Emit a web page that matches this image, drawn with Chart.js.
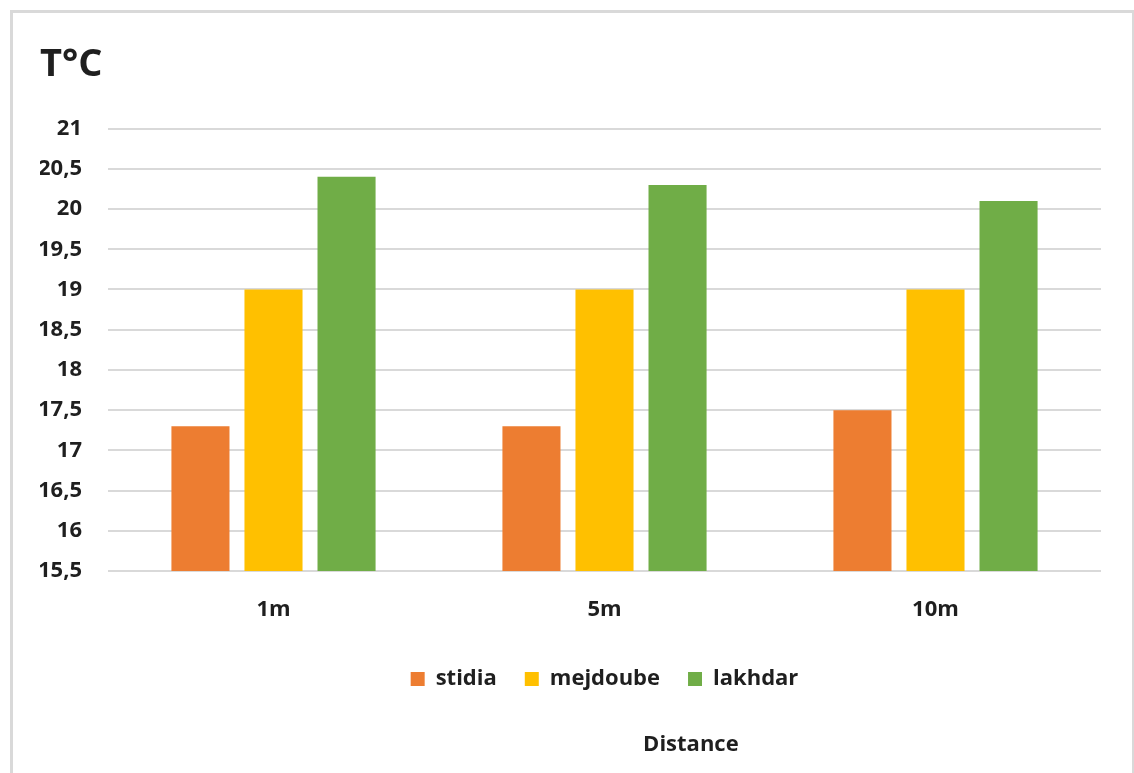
<!DOCTYPE html>
<html>
<head>
<meta charset="utf-8">
<script src="https://cdn.jsdelivr.net/npm/chart.js@4.4.1/dist/chart.umd.min.js"></script>
<style>
  html, body { margin: 0; padding: 0; background: #fff; }
  #frame {
    position: absolute; left: 10px; top: 10px;
    width: 1119px; height: 790px;
    border: 3px solid #d9d9d9;
  }
  #wrap { position: absolute; left: 0; top: 0; width: 1134px; height: 773px; }
</style>
</head>
<body>
<div id="frame"></div>
<div id="wrap"><canvas id="temp-chart"></canvas></div>
<script>
  // categories and series
  const distances = ["1m", "5m", "10m"];
  const stidia = [17.3, 17.3, 17.5];
  const mejdoube = [19.0, 19.0, 19.0];
  const lakhdar = [20.4, 20.3, 20.1];

  const FONT = "'Open Sans', 'DejaVu Sans', sans-serif";
  const TEXT = "#1f1f1f";

  // Excel puts the axis title off centre, draw it by hand
  const axisTitle = {
    id: "axisTitle",
    afterDraw(chart) {
      const ctx = chart.ctx;
      const area = chart.chartArea;
      ctx.save();
      ctx.font = "bold 22px " + FONT;
      ctx.fillStyle = TEXT;
      ctx.textAlign = "center";
      ctx.textBaseline = "middle";
      ctx.fillText("Distance", area.left + (area.right - area.left) * 0.587, 745);
      ctx.restore();
    },
  };

  let ctx = document.getElementById("temp-chart").getContext("2d");
  let tempChart = new Chart(ctx, {
    type: "bar",
    data: {
      labels: distances,
      datasets: [
        { label: "stidia", data: stidia, backgroundColor: "#ED7D31" },
        { label: "mejdoube", data: mejdoube, backgroundColor: "#FFC000" },
        { label: "lakhdar", data: lakhdar, backgroundColor: "#70AD47" },
      ],
    },
    options: {
      responsive: true,
      maintainAspectRatio: false,
      animation: false,
      categoryPercentage: 0.662,
      barPercentage: 0.795,
      layout: {
        padding: { left: 40, right: 33, top: 0, bottom: 73 },
      },
      plugins: {
        tooltip: { enabled: false },
        title: {
          display: true,
          text: "T°C",
          align: "start",
          color: TEXT,
          font: { family: FONT, size: 38, weight: "bold" },
          padding: { top: 42, bottom: 41 },
        },
        legend: {
          position: "bottom",
          fullSize: false,
          labels: {
            boxWidth: 14,
            boxHeight: 14,
            padding: 28,
            color: TEXT,
            font: { family: FONT, size: 22, weight: "bold" },
          },
        },
      },
      scales: {
        x: {
          afterFit(scale) {
            scale.height = 69;
          },
          grid: { display: false, drawTicks: false },
          border: { display: false },
          ticks: {
            padding: 26,
            color: TEXT,
            font: { family: FONT, size: 22, weight: "bold" },
          },
        },
        y: {
          min: 15.5,
          max: 21,
          afterFit(scale) {
            scale.width = 68;
          },
          grid: { color: "#d9d9d9", lineWidth: 2, drawTicks: false },
          border: { display: false },
          ticks: {
            stepSize: 0.5,
            padding: 26,
            color: TEXT,
            font: { family: FONT, size: 22, weight: "bold" },
            callback: function (value) {
              return value.toString().replace(".", ",");
            },
          },
        },
      },
    },
    plugins: [axisTitle],
  });
</script>
</body>
</html>
